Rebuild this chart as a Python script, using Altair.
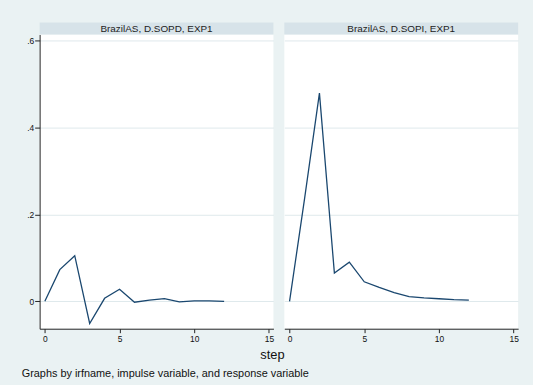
import altair as alt
import pandas as pd

steps = list(range(13))
sopd = [0.0, 0.073, 0.105, -0.051, 0.007, 0.028, -0.002, 0.003, 0.006, -0.001, 0.001, 0.001, 0.0]
sopi = [0.0, 0.235, 0.479, 0.065, 0.090, 0.045, 0.032, 0.020, 0.011, 0.008, 0.006, 0.004, 0.003]
panel_titles = ["BrazilAS, D.SOPD, EXP1", "BrazilAS, D.SOPI, EXP1"]
x_ticks = [0, 5, 10, 15]
y_ticks = [0, 0.2, 0.4, 0.6]
x_title = "step"
note = "Graphs by irfname, impulse variable, and response variable"

BG = "#EAF2F3"
STRIP = "#D7E3E9"
GRID = "#DFE9EC"
LINE = "#1A476F"
FONT = "Liberation Sans"
W, H = 236, 297


def panel(values, title, show_y):
    df = pd.DataFrame({"step": steps, "irf": values})
    yaxis = alt.Axis(
        values=y_ticks,
        labelExpr="datum.value == 0 ? '0' : replace(format(datum.value, '.1f'), '0.', '.')",
        title=None,
        grid=True,
        gridColor=GRID,
        gridWidth=1,
        domain=show_y,
        domainColor="#222222",
        ticks=show_y,
        tickColor="#222222",
        tickSize=5,
        labels=show_y,
        labelFont=FONT,
        labelFontSize=8.5,
        labelColor="#111111",
        labelPadding=1,
    )
    xaxis = alt.Axis(
        values=x_ticks,
        title=None,
        grid=False,
        domainColor="#222222",
        tickColor="#222222",
        tickSize=4,
        labelFont=FONT,
        labelFontSize=8.5,
        labelColor="#111111",
        labelPadding=2,
        labelAngle=0,
    )
    line = alt.Chart(df).mark_line(color=LINE, strokeWidth=1.3).encode(
        x=alt.X("step:Q", scale=alt.Scale(domain=[-0.35, 15.3], nice=False, zero=False), axis=xaxis),
        y=alt.Y("irf:Q", scale=alt.Scale(domain=[-0.063, 0.614], nice=False, zero=False), axis=yaxis),
    )
    tdf = pd.DataFrame({"t": [title]})
    strip = alt.Chart(tdf).mark_rect(fill=STRIP).encode(
        x=alt.value(0), x2=alt.value(W), y=alt.value(-12), y2=alt.value(0)
    )
    text = alt.Chart(tdf).mark_text(font=FONT, fontSize=10, color="#222222", baseline="middle").encode(
        x=alt.value(W / 2), y=alt.value(-6), text="t:N"
    )
    return alt.layer(strip, text, line).properties(width=W, height=H)


p1 = panel(sopd, panel_titles[0], True)
p2 = panel(sopi, panel_titles[1], False)

inner = alt.hconcat(p1, p2, spacing=10).properties(
    title=alt.TitleParams(
        text=x_title, orient="bottom", anchor="middle", font=FONT, fontSize=13,
        fontWeight="normal", color="#111111", offset=6,
    )
)

chart = alt.vconcat(inner, spacing=0).properties(
    title=alt.TitleParams(
        text=note, orient="bottom", anchor="start", font=FONT, fontSize=11,
        fontWeight="normal", color="#111111", offset=6, dx=-5,
    ),
    padding={"left": 21, "top": 21, "right": 14, "bottom": 4},
    background=BG,
).configure_view(stroke=None, fill="white")

chart.save("out.html", embed_options={"renderer": "svg", "actions": False})
